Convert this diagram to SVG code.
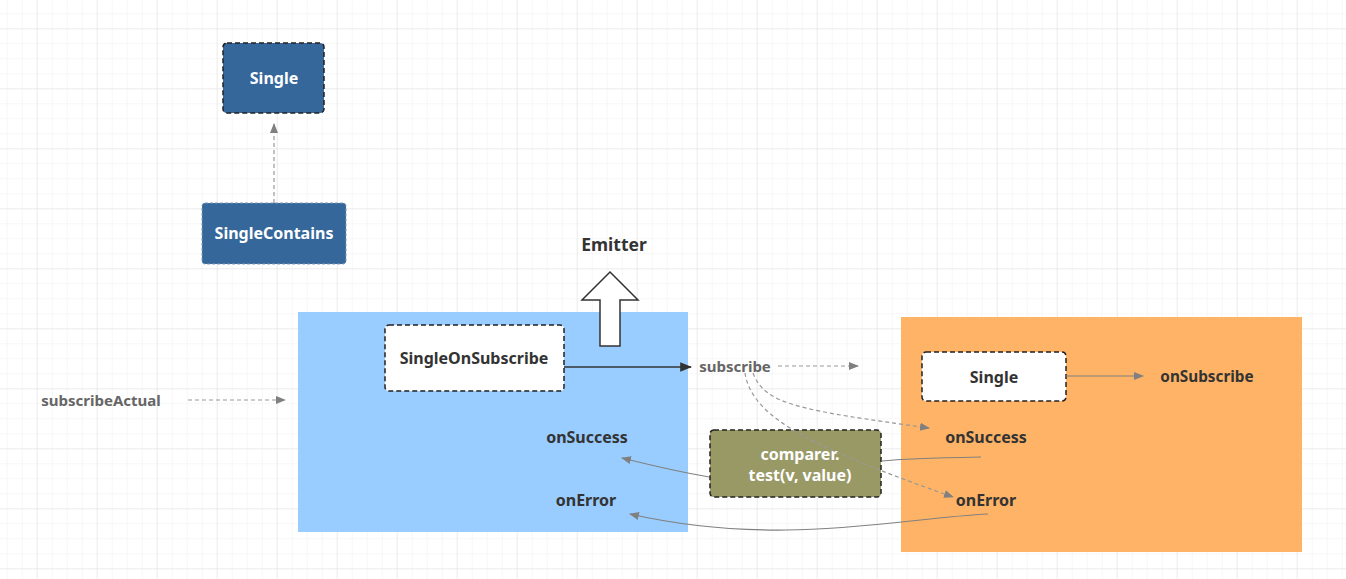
<svg xmlns="http://www.w3.org/2000/svg" width="1346" height="579" viewBox="0 0 1346 579">
<defs>
<pattern id="minor" x="6.7" y="13.3" width="15" height="15" patternUnits="userSpaceOnUse">
<path d="M0 0H15M0 0V15" fill="none" stroke="#efefef" stroke-width="1"/>
</pattern>
<pattern id="major" x="36.7" y="28.3" width="60" height="60" patternUnits="userSpaceOnUse">
<path d="M0 0H60M0 0V60" fill="none" stroke="#e2e2e2" stroke-width="1"/>
</pattern>
<marker id="ag" viewBox="0 0 10 10" refX="9" refY="5" markerWidth="10" markerHeight="10" markerUnits="userSpaceOnUse" orient="auto">
<path d="M0 1L10 5L0 9Z" fill="#808080"/>
</marker>
<marker id="ad" viewBox="0 0 10 10" refX="9" refY="5" markerWidth="12" markerHeight="12" markerUnits="userSpaceOnUse" orient="auto">
<path d="M0 1L10 5L0 9Z" fill="#333"/>
</marker>
<style>
.t{font-family:"Noto Sans","Open Sans",sans-serif;font-weight:bold;font-size:16px;text-anchor:middle;dominant-baseline:central}
.s{font-size:15px}
.w{fill:#fff}
.k{fill:#333}
.g{fill:#666}
.box{stroke:#222;stroke-width:1.5;stroke-dasharray:5 3}
.dash{fill:none;stroke:#999;stroke-width:1.2;stroke-dasharray:4 3}
.sol{fill:none;stroke:#808080;stroke-width:1.2}
</style>
</defs>
<rect width="1346" height="579" fill="#fff"/>
<rect width="1346" height="579" fill="url(#minor)"/>
<rect width="1346" height="579" fill="url(#major)"/>

<g id="blueArea"><rect x="298" y="312" width="390" height="220" fill="#99ccff"/></g>
<g id="orangeArea"><rect x="901" y="317" width="401" height="235" fill="#ffb366"/></g>

<g id="emitterArrow"><path d="M610 272L638 300H620V346H600V300H582Z" fill="#fff" stroke="#333" stroke-width="1.5"/></g>
<g id="emitter"><text x="614" y="244" class="t k" style="font-size:17.5px">Emitter</text></g>

<g id="single"><rect x="223" y="43" width="101" height="70" rx="4" fill="#35679a" class="box"/><text x="274" y="78" class="t w">Single</text></g>
<g id="singleContains"><rect x="202" y="203" width="144" height="61" rx="3" fill="#35679a" stroke="#7f9cbb" stroke-dasharray="3 2"/><text x="274" y="233" class="t w">SingleContains</text></g>
<g id="subscribeActual"><text x="101" y="400" class="t s g">subscribeActual</text></g>
<g id="singleOnSubscribe"><rect x="385" y="325" width="179" height="66" rx="4" fill="#fff" class="box"/><text x="474" y="358" class="t k">SingleOnSubscribe</text></g>
<g id="subscribe"><text x="735" y="366" class="t s g">subscribe</text></g>
<g id="onSuccessL"><text x="587" y="437" class="t k">onSuccess</text></g>
<g id="onErrorL"><text x="586" y="500" class="t k">onError</text></g>
<g id="comparer"><rect x="710" y="430" width="171" height="67" rx="4" fill="#999966" class="box"/><text x="800" y="454" class="t w">comparer.</text><text x="800" y="475" class="t w">test(v, value)</text></g>
<g id="singleR"><rect x="922" y="352" width="144" height="49" rx="4" fill="#fff" class="box"/><text x="994" y="377" class="t k">Single</text></g>
<g id="onSubscribe"><text x="1207" y="376" class="t k" style="font-size:15.3px">onSubscribe</text></g>
<g id="onSuccessR"><text x="986" y="437" class="t k">onSuccess</text></g>
<g id="onErrorR"><text x="986" y="500" class="t k">onError</text></g>

<g id="connectors">
<line x1="274" y1="203" x2="274" y2="124" class="dash" marker-end="url(#ag)"/>
<line x1="188" y1="400" x2="285" y2="400" class="dash" marker-end="url(#ag)"/>
<line x1="564" y1="367" x2="691" y2="367" stroke="#333" stroke-width="1.5" marker-end="url(#ad)"/>
<line x1="778" y1="366" x2="858" y2="366" class="dash" marker-end="url(#ag)"/>
<path d="M753 373C765 405 800 410 929 428" class="dash" marker-end="url(#ag)"/>
<path d="M745 373C752 420 820 450 953 497" class="dash" marker-end="url(#ag)"/>
<line x1="1066" y1="376" x2="1143" y2="376" class="sol" marker-end="url(#ag)"/>
<path d="M981 457C930 458 900 459 882 461" class="sol"/>
<path d="M709 477C680 472 650 465 622 458" class="sol" marker-end="url(#ag)"/>
<path d="M988 514C900 518 780 548 630 514" class="sol" marker-end="url(#ag)"/>
</g>
</svg>
